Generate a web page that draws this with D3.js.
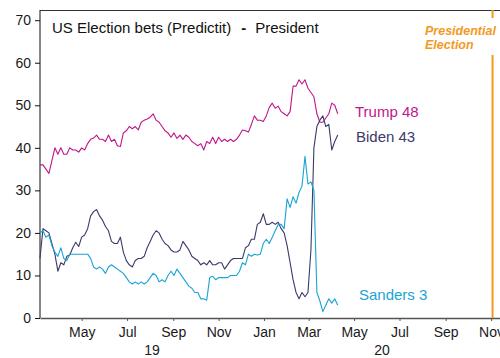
<!DOCTYPE html>
<html>
<head>
<meta charset="utf-8">
<script src="https://cdn.jsdelivr.net/npm/d3@7"></script>
<style>
  html, body { margin: 0; padding: 0; background: #fff; }
  svg { display: block; font-family: "Liberation Sans", Arial, sans-serif; }
</style>
</head>
<body>
<svg id="chart" width="500" height="358"></svg>
<script>
// PredictIt prices (cents), sampled every 4 days from 6 Mar 2019
const startDate = new Date(2019, 2, 6);
const stepDays = 4;

const trump = [
  36, 36, 35, 34, 37, 40, 38.5, 40, 38.5, 38.5,
  40, 39.5, 39.5, 39, 40, 39.5, 41, 42, 42.3, 43,
  42, 42, 41.5, 43, 41.5, 42, 40.5, 40.3, 43.5, 44,
  45, 44.5, 45, 44.2, 46, 46.5, 46.8, 47.2, 48, 46.5,
  46, 45, 44, 43.5, 42.5, 43.5, 42.2, 43, 42, 43,
  42.5, 41.5, 41, 40.5, 41, 39.5, 41.5, 41, 42.5, 41,
  42.5, 41.5, 42, 41.5, 42, 41.5, 42, 43, 44.2, 44,
  43.7, 45.5, 47.5, 46.5, 46.5, 46.2, 47.5, 49.5, 50.5, 49.3,
  49.8, 48.5, 48, 47.5, 48.5, 54.5, 54.5, 56, 55, 56,
  54, 53, 52, 48, 46, 46, 47, 48, 50.5, 50,
  48
];

const biden = [
  14, 21, 20.5, 20, 17.5, 15, 11, 13, 12.5, 14.5,
  14.8, 16.5, 17.8, 16.8, 19, 19.5, 21, 24, 25, 25.5,
  24, 23, 21.5, 20.5, 18, 17.5, 17.5, 19, 15.5, 13.5,
  12.5, 12, 13.5, 14, 14, 14.5, 16.5, 18, 19.5, 20.5,
  20, 18.5, 17.5, 17, 16, 15.5, 15.5, 16, 18, 17,
  16, 14.5, 14, 13.5, 12.5, 13, 12.5, 13.5, 12.5, 12.5,
  13, 13, 11.5, 12.5, 13.5, 14, 14, 14, 14, 16.5,
  17, 18.5, 18.5, 22, 22.5, 24.5, 22, 22, 22.5, 22,
  22.5, 21, 20, 17, 13, 9, 6, 4.5, 6, 5,
  6, 16, 40, 45, 46.5, 47.5, 45, 45.5, 39.5, 41.5,
  43
];

const sanders = [
  20, 20.5, 19, 19.5, 17, 15.5, 14.5, 16.5, 14, 13.5,
  15, 15, 15, 15, 15, 15, 15, 14, 12, 11.5,
  12, 11.5, 10.5, 12, 12.5, 12, 11.5, 11, 10.5, 9.5,
  8.5, 8, 8.5, 8, 8.5, 8, 8.5, 9.5, 10.5, 10,
  8.5, 9, 8.5, 10, 11, 10, 11.5, 10.5, 9.5, 8.5,
  7.5, 7, 6, 6, 4.5, 4.5, 4.2, 9.5, 9.8, 9,
  9.5, 9.5, 9.5, 9.5, 10, 10, 10, 11, 13, 12.5,
  15, 14.5, 15, 14.8, 15, 17.5, 18.5, 17.5, 19, 20.5,
  22, 22, 21, 28, 26, 28.5, 27, 29.5, 31, 38,
  31.5, 32, 30, 6, 4, 1.5, 3, 4.5, 3.5, 4.5,
  3
];

const seriesNames = ["Trump", "Biden", "Sanders"];
const seriesColors = ["#c0168b", "#3b3a6b", "#1aa3d3"];
const yTicks = [0, 10, 20, 30, 40, 50, 60, 70];
const electionDate = new Date(2020, 10, 3);

const dates = trump.map((_, i) => d3.timeDay.offset(startDate, i * stepDays));

const svg = d3.select("#chart");
const plotLeft = 40, plotRight = 500, plotTop = 10, plotBottom = 318;

const x = d3.scaleTime()
  .domain([startDate, new Date(2020, 10, 13)])
  .range([plotLeft, plotRight]);
const y = d3.scaleLinear().domain([0, 70]).range([plotBottom, 20.2]);

// frame: top rule
svg.append("line")
  .attr("x1", plotLeft).attr("x2", plotRight)
  .attr("y1", plotTop + 0.5).attr("y2", plotTop + 0.5)
  .attr("stroke", "#333").attr("stroke-width", 1);

// y axis
const yAxis = svg.append("g")
  .attr("transform", `translate(${plotLeft},0)`)
  .call(d3.axisLeft(y).tickValues(yTicks).tickSize(5).tickPadding(4).tickSizeOuter(0));
yAxis.select(".domain").attr("d", `M0,${plotTop}V${plotBottom}`).attr("stroke", "#111");
yAxis.selectAll(".tick line").attr("stroke", "#111");
yAxis.selectAll("text").attr("font-size", 14).attr("fill", "#1a1a1a")
  .attr("font-family", "Liberation Sans, Arial, sans-serif");

// x axis
const xAxis = svg.append("g")
  .attr("transform", `translate(0,${plotBottom})`)
  .call(d3.axisBottom(x).ticks(d3.timeMonth.every(2)).tickFormat(d3.timeFormat("%b"))
    .tickSize(3).tickPadding(6).tickSizeOuter(0));
xAxis.select(".domain").attr("stroke", "#555").attr("stroke-width", 1.5);
xAxis.selectAll(".tick line").attr("stroke", "#555");
xAxis.selectAll("text").attr("font-size", 14).attr("fill", "#1a1a1a")
  .attr("font-family", "Liberation Sans, Arial, sans-serif");

// year labels, centred under the visible part of each year
const yearSplit = x(new Date(2020, 0, 1));
const years = [["19", (plotLeft + yearSplit) / 2], ["20", (yearSplit + plotRight) / 2]];
svg.selectAll("text.year").data(years).join("text")
  .attr("class", "year")
  .attr("x", d => d[1]).attr("y", 355)
  .attr("text-anchor", "middle")
  .attr("font-size", 14).attr("fill", "#1a1a1a")
  .text(d => d[0]);

// election marker
const ex = x(electionDate);
svg.append("line").attr("x1", ex).attr("x2", ex).attr("y1", plotTop).attr("y2", 18)
  .attr("stroke", "#f39a1e").attr("stroke-width", 2);
svg.append("line").attr("x1", ex).attr("x2", ex).attr("y1", 55).attr("y2", plotBottom)
  .attr("stroke", "#f39a1e").attr("stroke-width", 2);
svg.append("text").attr("x", 425).attr("y", 34.5)
  .attr("font-size", 12.5).attr("font-weight", "bold").attr("font-style", "italic")
  .attr("fill", "#f39a1e")
  .selectAll("tspan").data(["Presidential", "Election"]).join("tspan")
  .attr("x", 425).attr("dy", (d, i) => i ? 14.5 : 0).text(d => d);

// series lines
const values = [trump, biden, sanders];
const line = d3.line().x((d, i) => x(dates[i])).y(d => y(d));
svg.selectAll("path.series").data(values).join("path")
  .attr("class", "series")
  .attr("d", line)
  .attr("fill", "none")
  .attr("stroke", (d, i) => seriesColors[i])
  .attr("stroke-width", 1.1)
  .attr("stroke-linejoin", "round");

// end labels
const labelPos = [[355, 116.5], [356, 141.5], [359, 300]];
svg.selectAll("text.endlabel").data(values).join("text")
  .attr("class", "endlabel")
  .attr("x", (d, i) => labelPos[i][0]).attr("y", (d, i) => labelPos[i][1])
  .attr("font-size", 15)
  .attr("fill", (d, i) => seriesColors[i])
  .text((d, i) => `${seriesNames[i]} ${Math.round(d[d.length - 1])}`);

// title
const title = svg.append("text").attr("x", 52).attr("y", 32.5)
  .attr("font-size", 15).attr("fill", "#111");
title.append("tspan").text("US Election bets (Predictit)");
title.append("tspan").attr("font-weight", "bold").attr("dx", 10).text("-");
title.append("tspan").attr("dx", 9).text("President");
</script>
</body>
</html>
